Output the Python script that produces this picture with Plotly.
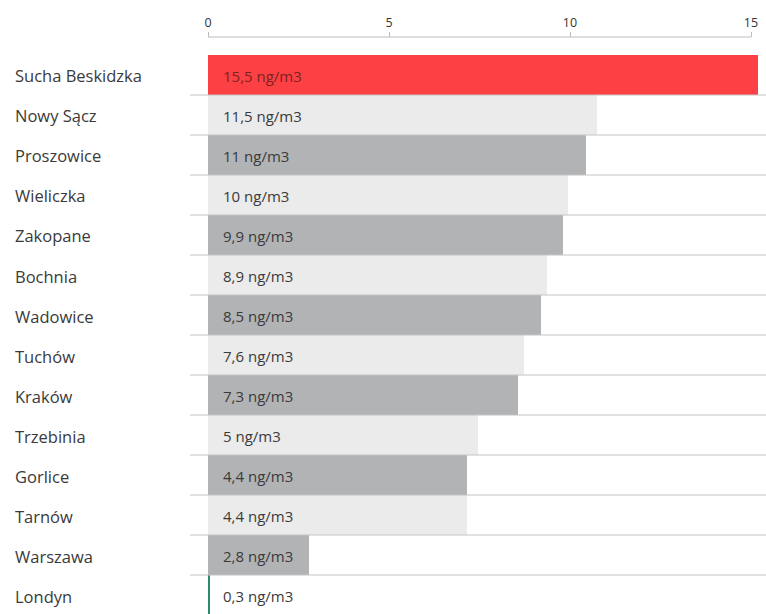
import plotly.graph_objects as go

# Data
cities = ["Sucha Beskidzka", "Nowy Sącz", "Proszowice", "Wieliczka", "Zakopane",
          "Bochnia", "Wadowice", "Tuchów", "Kraków", "Trzebinia", "Gorlice",
          "Tarnów", "Warszawa", "Londyn"]
value_labels = ["15,5 ng/m3", "11,5 ng/m3", "11 ng/m3", "10 ng/m3", "9,9 ng/m3",
                "8,9 ng/m3", "8,5 ng/m3", "7,6 ng/m3", "7,3 ng/m3", "5 ng/m3",
                "4,4 ng/m3", "4,4 ng/m3", "2,8 ng/m3", "0,3 ng/m3"]
# bar lengths as drawn on the reference axis
bar_lengths = [15.19, 10.75, 10.44, 9.94, 9.81, 9.36, 9.20, 8.72, 8.56, 7.46,
               7.15, 7.15, 2.79, 0.05]
tick_values = [0, 5, 10, 15]

RED = "#fd4044"
LIGHT = "#ebebeb"
DARK = "#b1b3b4"
GREEN = "#2a8c6c"
colors = []
for i, c in enumerate(cities):
    if i == 0:
        colors.append(RED)
    elif c == "Londyn":
        colors.append(GREEN)
    elif i % 2 == 1:
        colors.append(LIGHT)
    else:
        colors.append(DARK)

W, H = 766, 614
ML, MT = 208, 37
plot_w = W - ML
px_per_unit = 36.2
x_max = plot_w / px_per_unit
plot_h = H - MT
row_px = 40
rows_top = 55
dom_top = (H - rows_top) / plot_h
n_rows_visible = (H - rows_top) / row_px

FONT = "Open Sans"

fig = go.Figure(go.Bar(
    x=bar_lengths, y=list(range(len(cities))), orientation="h",
    marker=dict(color=colors, line=dict(width=0)), width=1.0,
    hoverinfo="skip",
))

annotations = []
for i, (c, lab) in enumerate(zip(cities, value_labels)):
    annotations.append(dict(
        x=(13 - ML) / plot_w, xref="paper", y=i, yref="y", text=c,
        showarrow=False, xanchor="left", yanchor="middle", yshift=-1,
        font=dict(family=FONT, size=16.5, color="#3a3a3a"),
    ))
    annotations.append(dict(
        x=0, xref="x", y=i, yref="y", text=lab, xshift=13, yshift=-1,
        showarrow=False, xanchor="left", yanchor="middle",
        font=dict(family=FONT, size=15, color="#7d2222" if i == 0 else "#3a3a3a"),
    ))

shapes = []
for i in range(len(cities) - 1):
    shapes.append(dict(
        type="line", xref="paper", x0=(190 - ML) / plot_w, x1=1,
        yref="y", y0=i + 0.5, y1=i + 0.5,
        line=dict(color="#c4c4c4", width=1), layer="above",
    ))
# axis line spanning 0..15
shapes.append(dict(
    type="line", xref="x", x0=tick_values[0], x1=tick_values[-1],
    yref="paper", y0=1, y1=1, line=dict(color="#bdbdbd", width=1),
))

fig.update_layout(
    width=W, height=H,
    margin=dict(l=ML, r=0, t=MT, b=0),
    paper_bgcolor="white", plot_bgcolor="white",
    showlegend=False, bargap=0,
    xaxis=dict(
        range=[0, x_max], side="top", anchor="free", position=1,
        tickvals=tick_values, ticktext=[str(v) for v in tick_values],
        ticks="outside", ticklen=5, tickcolor="#bdbdbd", tickwidth=1,
        showgrid=False, zeroline=False, showline=False,
        tickfont=dict(family=FONT, size=12.5, color="#333333"),
    ),
    yaxis=dict(
        domain=[0, dom_top],
        range=[-0.5 + n_rows_visible, -0.5],
        showticklabels=False, showgrid=False, zeroline=False, ticks="",
    ),
    annotations=annotations, shapes=shapes,
)

fig.write_html("out.html")
